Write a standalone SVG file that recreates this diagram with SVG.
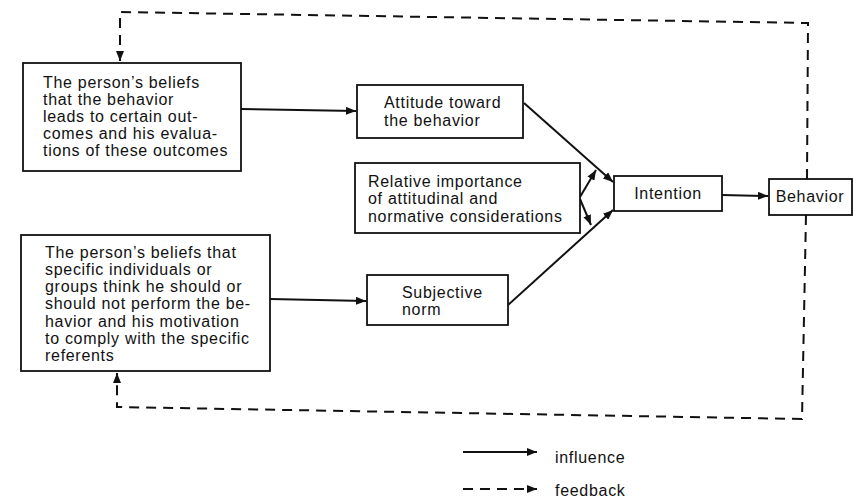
<svg xmlns="http://www.w3.org/2000/svg" width="853" height="501" viewBox="0 0 853 501">
<style>
.box{fill:#fff;stroke:#111;stroke-width:1.8}
.t{font-family:"Liberation Sans",Arial,sans-serif;font-size:16px;letter-spacing:0.7px;fill:#111}
.c{fill:none;stroke:#111;stroke-width:2}
.d{fill:none;stroke:#111;stroke-width:2;stroke-dasharray:10 7}
</style>
<defs>
<marker id="ah" viewBox="0 0 10 8" refX="10" refY="4" markerWidth="10" markerHeight="8" markerUnits="userSpaceOnUse" orient="auto">
<path d="M0,0 L10,4 L0,8 Z" fill="#111"/>
</marker>
</defs>
<rect width="853" height="501" fill="#fff"/>
<g id="connectors">
<path class="d" d="M807,179 L808,23 L120,12 L120,61" marker-end="url(#ah)"/>
<path class="d" d="M806,215 L802,419 L117,407 L117,373" marker-end="url(#ah)"/>
<path class="c" d="M241,109 L356,111" marker-end="url(#ah)"/>
<path class="c" d="M270,299 L366,301" marker-end="url(#ah)"/>
<path class="c" d="M524,103 L613,182" marker-end="url(#ah)"/>
<path class="c" d="M508,305 L613,210" marker-end="url(#ah)"/>
<path class="c" d="M580,197 L596,170" marker-end="url(#ah)"/>
<path class="c" d="M580,199 L591,225" marker-end="url(#ah)"/>
<path class="c" d="M722,195 L768,196" marker-end="url(#ah)"/>
<path class="c" d="M463,452 L537,452" marker-end="url(#ah)"/>
<path class="d" d="M463,489 L537,489" stroke-dasharray="8 5" marker-end="url(#ah)"/>
</g>
<g id="beliefs-outcomes">
<rect class="box" x="23" y="63" width="218" height="108"/>
<text class="t" x="43" y="88">The person’s beliefs</text>
<text class="t" x="43" y="105">that the behavior</text>
<text class="t" x="43" y="122">leads to certain out-</text>
<text class="t" x="43" y="139">comes and his evalua-</text>
<text class="t" x="43" y="156">tions of these outcomes</text>
</g>
<g id="beliefs-referents">
<rect class="box" x="21" y="235" width="249" height="136"/>
<text class="t" x="45" y="258">The person’s beliefs that</text>
<text class="t" x="45" y="275">specific individuals or</text>
<text class="t" x="45" y="292">groups think he should or</text>
<text class="t" x="45" y="309">should not perform the be-</text>
<text class="t" x="45" y="327">havior and his motivation</text>
<text class="t" x="45" y="344">to comply with the specific</text>
<text class="t" x="45" y="361">referents</text>
</g>
<g id="attitude">
<rect class="box" x="357" y="85" width="166" height="53"/>
<text class="t" x="384" y="108">Attitude toward</text>
<text class="t" x="384" y="126">the behavior</text>
</g>
<g id="relative-importance">
<rect class="box" x="355" y="163" width="225" height="70"/>
<text class="t" x="368" y="187">Relative importance</text>
<text class="t" x="368" y="204">of attitudinal and</text>
<text class="t" x="368" y="222">normative considerations</text>
</g>
<g id="subjective-norm">
<rect class="box" x="367" y="275" width="141" height="50"/>
<text class="t" x="402" y="298">Subjective</text>
<text class="t" x="402" y="315">norm</text>
</g>
<g id="intention">
<rect class="box" x="614" y="176" width="108" height="35"/>
<text class="t" x="668" y="199" text-anchor="middle">Intention</text>
</g>
<g id="behavior">
<rect class="box" x="769" y="179" width="83" height="36"/>
<text class="t" x="810" y="202" text-anchor="middle">Behavior</text>
</g>
<g id="legend">
<text class="t" x="555" y="463">influence</text>
<text class="t" x="555" y="496">feedback</text>
</g>
</svg>
